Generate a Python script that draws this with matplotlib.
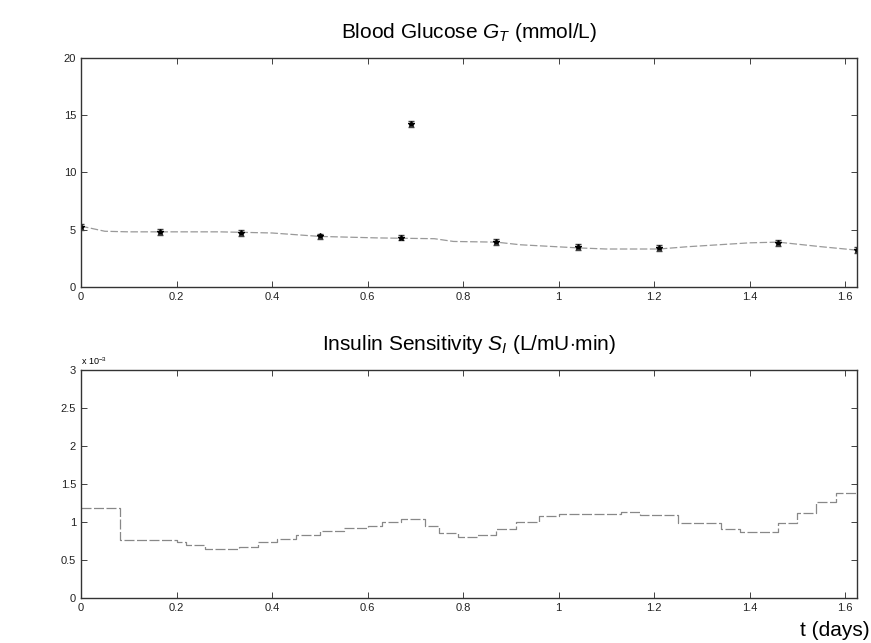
import matplotlib
matplotlib.use('Agg')
import matplotlib.pyplot as plt

# measured blood glucose (mmol/L)
bg_t = [0.0, 0.165, 0.335, 0.50, 0.67, 0.69, 0.87, 1.04, 1.21, 1.46, 1.625]
bg_val = [5.2, 4.8, 4.7, 4.4, 4.3, 14.2, 3.9, 3.5, 3.4, 3.8, 3.2]

# model fit of glucose
fit_t = [0.0, 0.05, 0.10, 0.20, 0.29, 0.40, 0.50, 0.62, 0.74, 0.78, 0.87, 0.92,
         1.04, 1.10, 1.21, 1.27, 1.40, 1.46, 1.55, 1.625]
fit_val = [5.3, 4.85, 4.8, 4.8, 4.8, 4.7, 4.4, 4.27, 4.2, 3.96, 3.9, 3.67,
           3.4, 3.3, 3.3, 3.5, 3.84, 3.9, 3.5, 3.2]

# insulin sensitivity step profile (x 1e-3 L/mU.min)
si_t = [0.0, 0.082, 0.20, 0.22, 0.26, 0.33, 0.37, 0.41, 0.45, 0.50, 0.55, 0.60,
        0.63, 0.67, 0.72, 0.75, 0.79, 0.83, 0.87, 0.91, 0.96, 1.00, 1.08, 1.13,
        1.17, 1.25, 1.34, 1.38, 1.46, 1.50, 1.54, 1.58]
si_val = [1.18, 0.76, 0.73, 0.69, 0.64, 0.67, 0.73, 0.77, 0.83, 0.88, 0.92, 0.95,
          1.00, 1.04, 0.95, 0.86, 0.80, 0.83, 0.91, 1.00, 1.08, 1.10, 1.11, 1.13,
          1.09, 0.98, 0.91, 0.87, 0.98, 1.12, 1.26, 1.38]
si_end = 1.625

xticks = [0, 0.2, 0.4, 0.6, 0.8, 1, 1.2, 1.4, 1.6]
xticklabels = ['0', '0.2', '0.4', '0.6', '0.8', '1', '1.2', '1.4', '1.6']

plt.rcParams['font.family'] = ['Liberation Sans', 'DejaVu Sans']
plt.rcParams['mathtext.fontset'] = 'custom'
plt.rcParams['mathtext.it'] = 'Liberation Sans:italic'
plt.rcParams['mathtext.rm'] = 'Liberation Sans'

fig = plt.figure(figsize=(8.71, 6.43), dpi=100)
ax1 = fig.add_axes([0.093, 0.554, 0.891, 0.356])
ax2 = fig.add_axes([0.093, 0.070, 0.891, 0.355])


def style(ax):
    ax.set_xlim(0, 1.625)
    ax.set_xticks(xticks)
    ax.set_xticklabels(xticklabels)
    ax.tick_params(direction='in', top=True, right=True, labelsize=8, length=4,
                   width=0.6, colors='#222222')
    for s in ax.spines.values():
        s.set_linewidth(1.0)
        s.set_color('#333333')


# top panel
ax1.plot(fit_t, fit_val, color='#999999', linewidth=0.9, linestyle=(0, (6, 2)))
ax1.errorbar(bg_t, bg_val, yerr=0.25, fmt='none', ecolor='#444444', elinewidth=0.6,
             capsize=2.5)
ax1.plot(bg_t, bg_val, linestyle='none', marker='*', markersize=4, color='black')
ax1.set_ylim(0, 20)
ax1.set_yticks([0, 5, 10, 15, 20])
style(ax1)
ax1.set_title('Blood Glucose $G_T$ (mmol/L)', fontsize=15, pad=14)

# bottom panel
ax2.step(si_t + [si_end], si_val + [si_val[-1]], where='post', color='#888888',
         linewidth=0.9, linestyle=(0, (8, 2)))
ax2.set_ylim(0, 3)
ax2.set_yticks([0, 0.5, 1, 1.5, 2, 2.5, 3])
ax2.set_yticklabels(['0', '0.5', '1', '1.5', '2', '2.5', '3'])
style(ax2)
ax2.set_title('Insulin Sensitivity $S_I$ (L/mU$\\cdot$min)', fontsize=15, pad=14)
ax2.text(0.0, 1.01, r'x 10$^{-3}$', transform=ax2.transAxes, fontsize=6.5,
         ha='left', va='bottom')
fig.text(0.998, 0.005, 't (days)', fontsize=15, ha='right', va='bottom')

plt.savefig('out.png', dpi=100)
plt.close()
